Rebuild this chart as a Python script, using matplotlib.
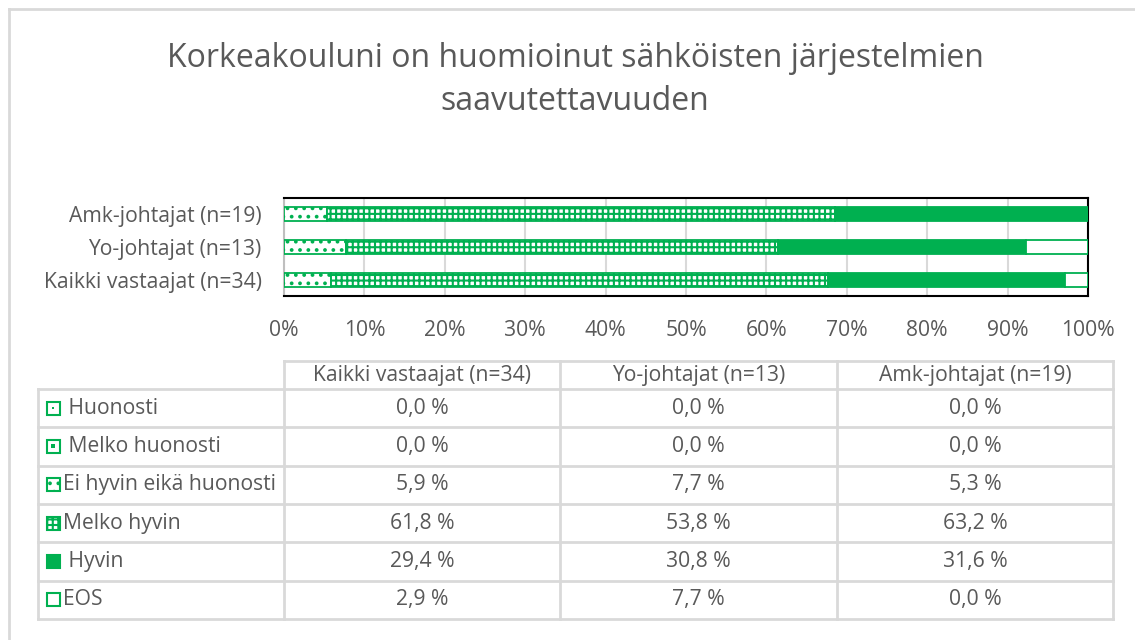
import numpy as np
import matplotlib as mpl
import matplotlib.pyplot as plt
from matplotlib.patches import Rectangle

GREEN = '#00B050'
GREY_TXT = '#595959'
GRID = '#D9D9D9'

mpl.rcParams['font.family'] = ['Open Sans', 'DejaVu Sans']
mpl.rcParams['hatch.color'] = GREEN
mpl.rcParams['hatch.linewidth'] = 1.5

title = 'Korkeakouluni on huomioinut sähköisten järjestelmien\nsaavutettavuuden'

groups = ['Kaikki vastaajat (n=34)', 'Yo-johtajat (n=13)', 'Amk-johtajat (n=19)']
answers = ['Huonosti', 'Melko huonosti', 'Ei hyvin eikä huonosti',
           'Melko hyvin', 'Hyvin', 'EOS']
# shares in percent, one list per answer, in the order of groups
shares = {
    'Huonosti':               [0.0, 0.0, 0.0],
    'Melko huonosti':         [0.0, 0.0, 0.0],
    'Ei hyvin eikä huonosti': [5.9, 7.7, 5.3],
    'Melko hyvin':            [61.8, 53.8, 63.2],
    'Hyvin':                  [29.4, 30.8, 31.6],
    'EOS':                    [2.9, 7.7, 0.0],
}
xticks = np.arange(0, 101, 10)

# fill / hatch for each answer; dot = size of the single dot in the legend key
styles = {
    'Huonosti':               dict(face='white', hatch=None, dot=1.5),
    'Melko huonosti':         dict(face='white', hatch=None, dot=2.5),
    'Ei hyvin eikä huonosti': dict(face='white', hatch='..', dot=0),
    'Melko hyvin':            dict(face='white', hatch='+++', dot=0),
    'Hyvin':                  dict(face=GREEN, hatch=None, dot=0),
    'EOS':                    dict(face='white', hatch=None, dot=0),
}

FS = 15.2
W, H = 1135, 640
fig = plt.figure(figsize=(W / 100, H / 100), dpi=100)

# full-size overlay in pixel coordinates for frame, title and table
bg = fig.add_axes([0, 0, 1, 1])
bg.set_xlim(0, W)
bg.set_ylim(H, 0)
bg.axis('off')

bg.plot([9, 9], [9, H + 5], color=GRID, lw=2)
bg.plot([9, W + 5], [9, 9], color=GRID, lw=2)

bg.text(575, 80, title, ha='center', va='center', fontsize=23,
        color=GREY_TXT, linespacing=1.4)

# stacked bars
ax = fig.add_axes([284 / W, 1 - 296 / H, (1088 - 284) / W, 98 / H])
y = np.arange(len(groups))
left = np.zeros(len(groups))
for a in answers:
    vals = np.array(shares[a])
    st = styles[a]
    ax.barh(y, vals, left=left, height=0.42, color=st['face'], edgecolor=GREEN,
            hatch=st['hatch'], linewidth=1.3, zorder=3)
    left += vals

ax.set_xlim(0, 100)
ax.set_ylim(-0.5, 2.5)
ax.set_xticks(xticks)
ax.set_xticklabels([f'{t}%' for t in xticks])
ax.set_yticks(y)
ax.set_yticklabels(groups)
ax.tick_params(length=0, labelsize=FS, labelcolor=GREY_TXT)
ax.tick_params(axis='x', pad=17)
ax.tick_params(axis='y', pad=16)
ax.grid(axis='x', color=GRID, lw=1.5, zorder=0)
ax.set_axisbelow(True)
for side in ['top', 'right', 'bottom']:
    ax.spines[side].set_color('black')
    ax.spines[side].set_linewidth(1.5)
ax.spines['left'].set_color('#BFBFBF')
ax.spines['left'].set_linewidth(1.5)

# data table under the chart
col_x = [38, 284, 560, 837, 1113]
head_top, row_top, row_h = 361, 389, 38.3
n_rows = len(answers)
bottom = row_top + n_rows * row_h

bg.plot([col_x[1], col_x[-1]], [head_top, head_top], color=GRID, lw=2)
for i in range(n_rows + 1):
    yy = row_top + i * row_h
    bg.plot([col_x[0], col_x[-1]], [yy, yy], color=GRID, lw=2)
bg.plot([col_x[0], col_x[0]], [row_top, bottom], color=GRID, lw=2)
for cx in col_x[1:]:
    bg.plot([cx, cx], [head_top, bottom], color=GRID, lw=2)

for j, g in enumerate(groups):
    cx = (col_x[j + 1] + col_x[j + 2]) / 2
    bg.text(cx, (head_top + row_top) / 2, g, ha='center', va='center',
            fontsize=FS, color=GREY_TXT)

for i, a in enumerate(answers):
    cy = row_top + (i + 0.5) * row_h
    st = styles[a]
    bg.add_patch(Rectangle((46.5, cy - 6.5), 13, 13, facecolor=st['face'],
                           edgecolor=GREEN, hatch=st['hatch'], lw=1.5))
    if st['dot']:
        bg.plot(53, cy, 's', ms=st['dot'], color=GREEN, mew=0)
    label = a if a in ('Ei hyvin eikä huonosti', 'Melko hyvin', 'EOS') else ' ' + a
    bg.text(63, cy, label, ha='left', va='center', fontsize=FS, color=GREY_TXT)
    for j in range(len(groups)):
        cx = (col_x[j + 1] + col_x[j + 2]) / 2
        txt = f'{shares[a][j]:.1f} %'.replace('.', ',')
        bg.text(cx, cy, txt, ha='center', va='center', fontsize=FS, color=GREY_TXT)

fig.savefig('out.png', dpi=100)
